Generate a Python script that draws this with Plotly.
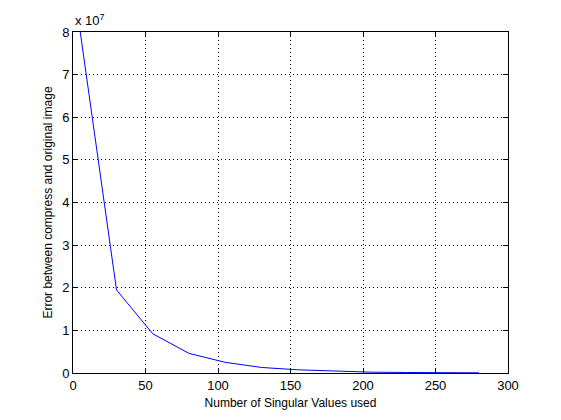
import plotly.graph_objects as go

# singular values kept vs. reconstruction error (in units of 1e7)
num_singular = [5, 30, 55, 80, 105, 130, 155, 180, 205, 230, 255, 280]
error_e7 = [8.0, 1.95, 0.92, 0.46, 0.25, 0.13, 0.075, 0.04, 0.02, 0.012, 0.007, 0.004]

x_ticks = [0, 50, 100, 150, 200, 250, 300]
y_ticks = [0, 1, 2, 3, 4, 5, 6, 7, 8]

fig = go.Figure()
fig.add_trace(go.Scatter(x=num_singular, y=error_e7, mode="lines",
                         line=dict(color="#0000ff", width=1), showlegend=False))

axis_style = dict(showline=True, linecolor="black", linewidth=1, mirror="allticks",
                  ticks="inside", ticklen=5, tickcolor="black",
                  showgrid=True, gridcolor="black", gridwidth=1, griddash="1px,3px",
                  zeroline=False, automargin=False,
                  tickfont=dict(size=13, color="black"))

fig.update_xaxes(range=[0, 300], tickvals=x_ticks, **axis_style,
                 title=dict(text="Number of Singular Values used", font=dict(size=12, color="black"),
                            standoff=7))
fig.update_yaxes(range=[0, 8], tickvals=y_ticks, **axis_style,
                 title=dict(text="Error between compress and original image",
                            font=dict(size=12, color="black"), standoff=6))

# MATLAB style exponent label
fig.add_annotation(text="x 10<sup>7</sup>", xref="paper", yref="paper", x=0, y=1,
                   xanchor="left", yanchor="bottom", showarrow=False,
                   font=dict(size=13, color="black"), yshift=2)

# page body has an 8px default margin, so the margins are shifted to compensate
fig.update_layout(width=561, height=420, paper_bgcolor="white", plot_bgcolor="white",
                  margin=dict(l=65, r=61, t=24, b=55),
                  font=dict(family="Liberation Sans, Arial, sans-serif", color="black"))

fig.write_html("out.html")
